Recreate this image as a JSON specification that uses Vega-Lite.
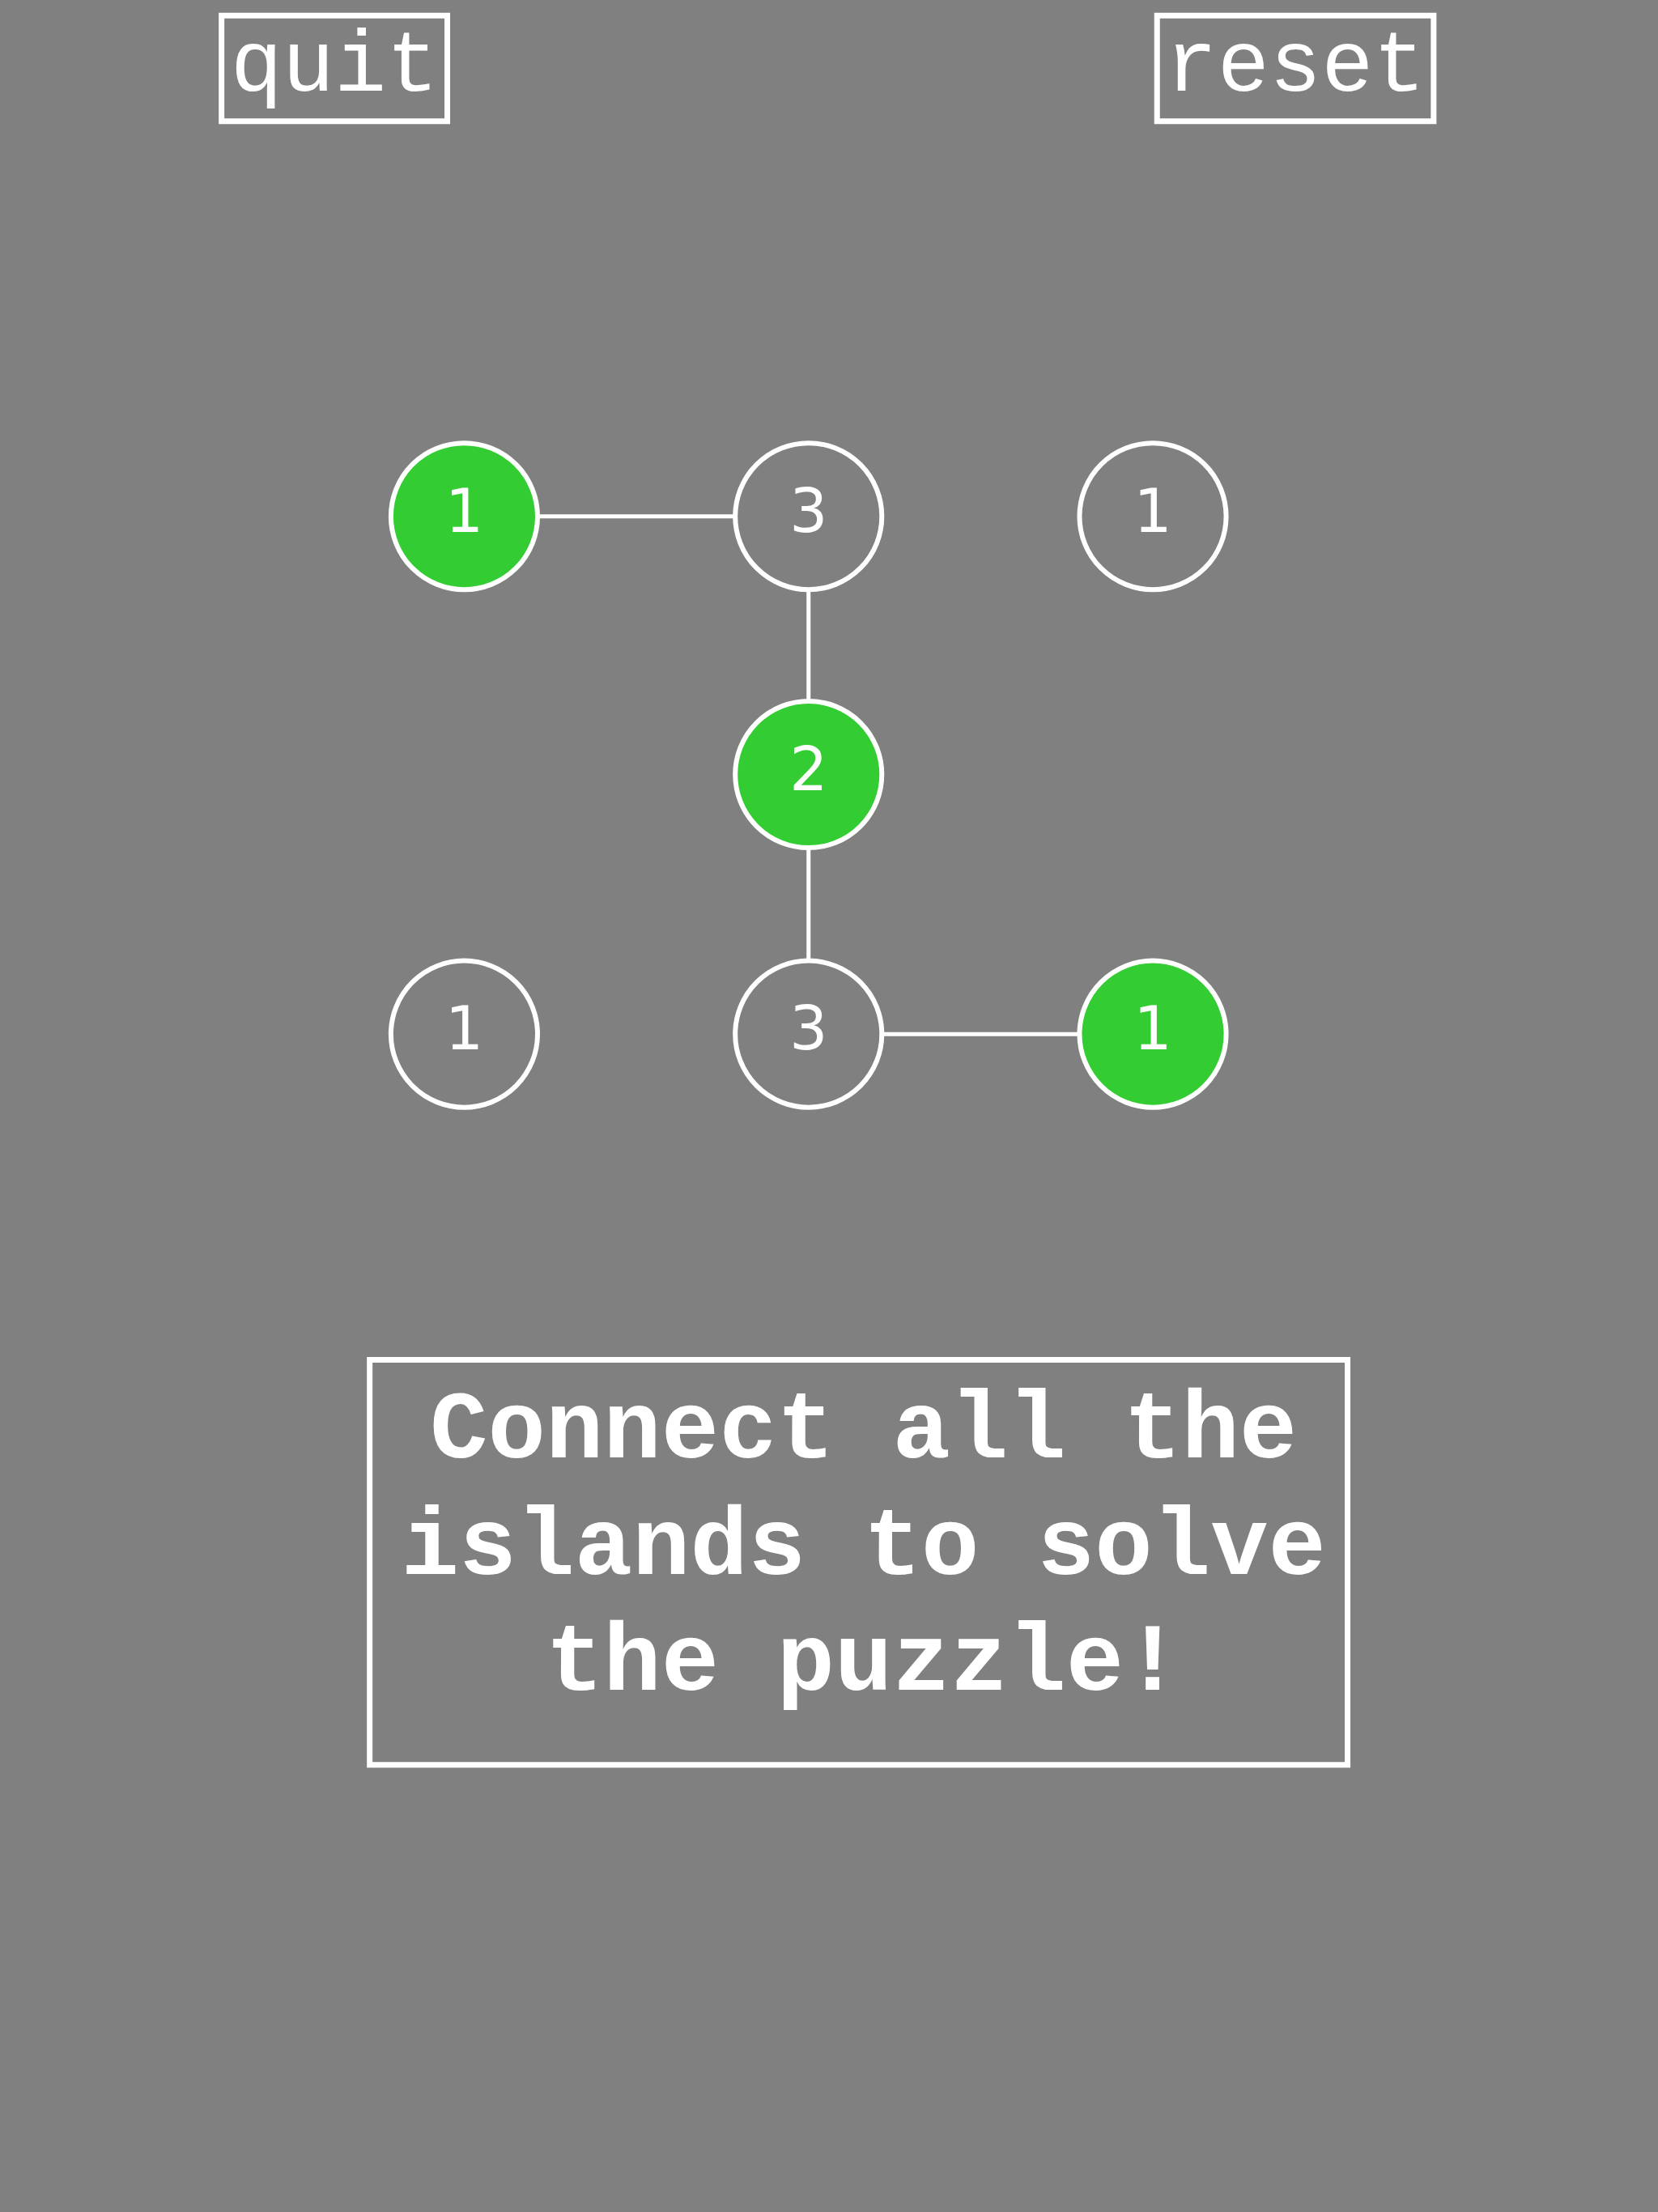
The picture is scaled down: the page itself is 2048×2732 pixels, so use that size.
{
"$schema":"https://vega.github.io/schema/vega-lite/v6.json",
"width":2048,"height":2732,"autosize":{"type":"fit","contains":"padding"},"padding":0,
"background":"#808080","config":{"view":{"stroke":null}},
"datasets":{
"islands":[{"x":329,"y":366,"n":"1","done":"yes"},{"x":573,"y":366,"n":"3","done":"no"},{"x":817,"y":366,"n":"1","done":"no"},{"x":573,"y":549,"n":"2","done":"yes"},{"x":329,"y":733,"n":"1","done":"no"},{"x":573,"y":733,"n":"3","done":"no"},{"x":817,"y":733,"n":"1","done":"yes"}],
"bridges":[{"x":329,"y":366,"x2":573,"y2":366},{"x":573,"y":366,"x2":573,"y2":549},{"x":573,"y":549,"x2":573,"y2":733},{"x":573,"y":733,"x2":817,"y2":733}],
"boxes":[{"x":157,"x2":317,"y":11,"y2":86},{"x":820,"x2":1016,"y":11,"y2":86},{"x":262,"x2":955,"y":964,"y2":1251}],
"buttons":[{"x":237,"y":64,"t":"quit"},{"x":918,"y":64,"t":"reset"}],
"lines":[{"x":612,"y":1033,"t":"Connect all the"},{"x":612,"y":1116,"t":"islands to solve"},{"x":612,"y":1198,"t":"the puzzle!"}]
},
"layer":[
{"data":{"name":"boxes"},"mark":{"type":"rect","fill":null,"stroke":"white","strokeWidth":7},
 "encoding":{"x":{"field":"x","type":"quantitative","scale":{"domain":[0,1175],"nice":false,"zero":false},"axis":null},"x2":{"field":"x2"},
 "y":{"field":"y","type":"quantitative","scale":{"domain":[0,1568],"nice":false,"zero":false,"reverse":true},"axis":null},"y2":{"field":"y2"}}},
{"data":{"name":"bridges"},"mark":{"type":"rule","stroke":"white","strokeWidth":5},
 "encoding":{"x":{"field":"x","type":"quantitative"},"x2":{"field":"x2"},"y":{"field":"y","type":"quantitative"},"y2":{"field":"y2"}}},
{"data":{"name":"islands"},"mark":{"type":"point","shape":"circle","filled":true,"size":32800,"stroke":"white","strokeWidth":6,"opacity":1,"strokeOpacity":1},
 "encoding":{"x":{"field":"x","type":"quantitative"},"y":{"field":"y","type":"quantitative"},
 "fill":{"field":"done","type":"nominal","scale":{"domain":["yes","no"],"range":["#33cc33","#808080"]},"legend":null}}},
{"data":{"name":"islands"},"mark":{"type":"text","color":"white","fontSize":74,"font":"DejaVu Sans","baseline":"middle","dy":-3},
 "encoding":{"x":{"field":"x","type":"quantitative"},"y":{"field":"y","type":"quantitative"},"text":{"field":"n"}}},
{"data":{"name":"buttons"},"mark":{"type":"text","color":"white","font":"Liberation Mono","fontSize":107,"baseline":"alphabetic","align":"center"},
 "encoding":{"x":{"field":"x","type":"quantitative"},"y":{"field":"y","type":"quantitative"},"text":{"field":"t"}}},
{"data":{"name":"lines"},"mark":{"type":"text","color":"white","font":"Liberation Mono","fontWeight":"bold","fontSize":119,"baseline":"alphabetic","align":"center"},
 "encoding":{"x":{"field":"x","type":"quantitative"},"y":{"field":"y","type":"quantitative"},"text":{"field":"t"}}}
]}
